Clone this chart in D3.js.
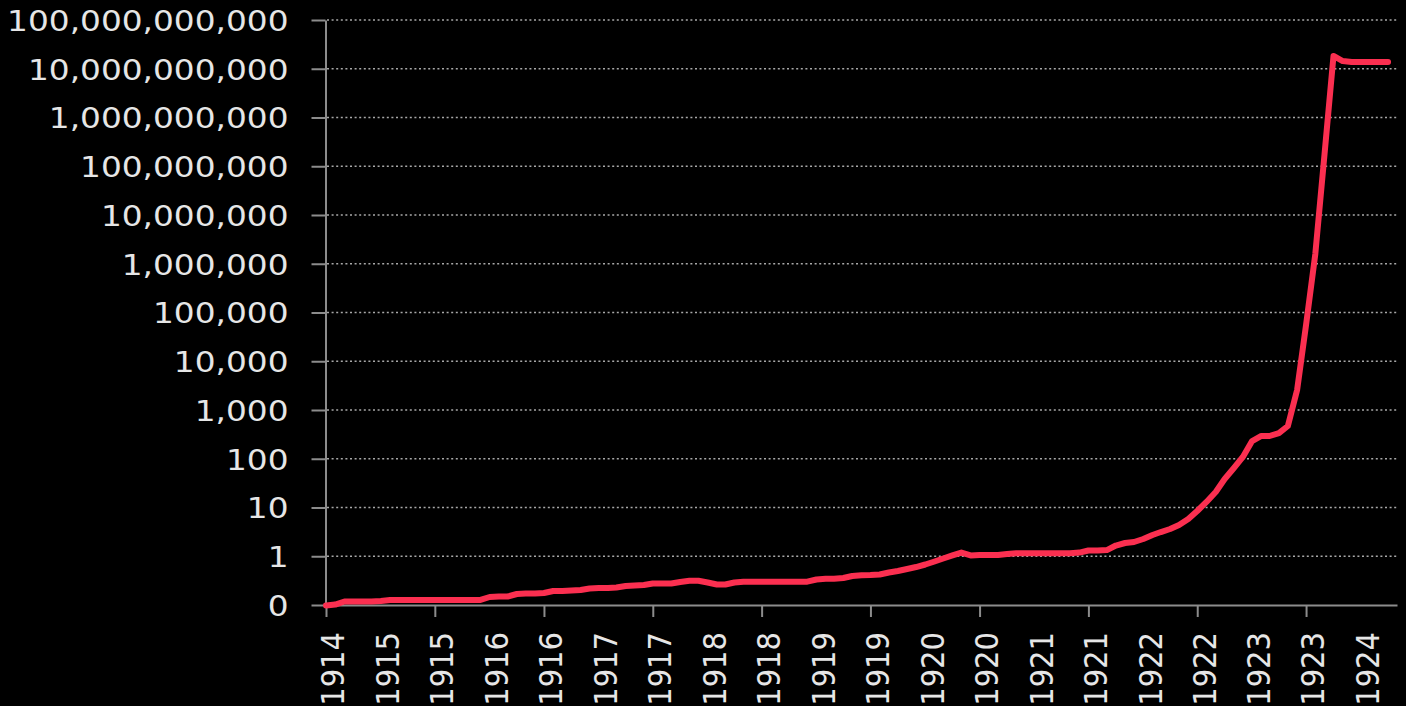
<!DOCTYPE html>
<html>
<head>
<meta charset="utf-8">
<script src="https://cdn.jsdelivr.net/npm/d3@7"></script>
<style>
  html, body { margin: 0; padding: 0; background: #000; }
  #wrapper { width: 1406px; height: 706px; }
</style>
</head>
<body>
<div id="wrapper"></div>
<script>
// Monthly series, first value is July 1914
const startMonth = new Date(1914, 6, 1);
const endMonth = new Date(1924, 4, 1);
const monthlyValues = [
  0.0977, 0.102, 0.118, 0.118, 0.118, 0.118, 0.121, 0.127, 0.127, 0.127, 0.127, 0.127,
  0.127, 0.127, 0.127, 0.127, 0.127, 0.127, 0.146, 0.149, 0.149, 0.168, 0.172, 0.172,
  0.176, 0.194, 0.194, 0.198, 0.203, 0.218, 0.223, 0.223, 0.229, 0.245, 0.251, 0.257,
  0.276, 0.276, 0.276, 0.297, 0.315, 0.315, 0.290, 0.263, 0.263, 0.290, 0.301, 0.301,
  0.301, 0.301, 0.301, 0.301, 0.301, 0.301, 0.333, 0.346, 0.346, 0.358, 0.394, 0.407,
  0.412, 0.423, 0.465, 0.498, 0.547, 0.601, 0.677, 0.780, 0.899, 1.04, 1.19, 1.04,
  1.06, 1.06, 1.06, 1.11, 1.15, 1.15, 1.15, 1.15, 1.15, 1.15, 1.15, 1.19,
  1.31, 1.31, 1.34, 1.66, 1.87, 1.96, 2.26, 2.73, 3.14, 3.62, 4.38, 5.81,
  8.47, 13.0, 20.8, 38.5, 64.6, 109, 231, 293, 293, 337, 470, 2570,
  55500, 1580000, 178000000, 18300000000, 14400000000, 13700000000,
  13700000000, 13700000000, 13700000000, 13700000000
];
const yTickValues = [0.1, 1, 10, 100, 1e3, 1e4, 1e5, 1e6, 1e7, 1e8, 1e9, 1e10, 1e11];
const xTickLabels = [
  "1914", "1915", "1915", "1916", "1916", "1917", "1917", "1918", "1918", "1919",
  "1919", "1920", "1920", "1921", "1921", "1922", "1922", "1923", "1923", "1924"
];

async function draw() {
  const dimensions = {
    width: 1406,
    height: 706,
    left: 326,
    right: 1397,
    top: 20,
    bottom: 605
  };
  const fontFamily = "'DejaVu Sans', Verdana, sans-serif";
  const textColor = "#e6e6e6";
  const axisColor = "#8c8c8c";
  const stretch = 1.13;   // the glyphs in the picture are a bit wider than tall

  const data = monthlyValues.map((v, i) => ({
    date: d3.timeMonth.offset(startMonth, i),
    value: v
  }));
  const dateAccessor = d => d.date;
  const valueAccessor = d => d.value;

  const svg = d3.select("#wrapper")
    .append("svg")
    .attr("width", dimensions.width)
    .attr("height", dimensions.height)
    .style("background", "#000");

  // Scales
  const xScale = d3.scaleTime()
    .domain([startMonth, endMonth])
    .range([dimensions.left, dimensions.right]);
  const yScale = d3.scaleLog()
    .domain([0.1, 1e11])
    .range([dimensions.bottom, dimensions.top]);

  // Dotted grid
  svg.append("g")
    .selectAll("line")
    .data(yTickValues.slice(1))
    .enter()
    .append("line")
    .attr("x1", dimensions.left + 1)
    .attr("x2", dimensions.right)
    .attr("y1", d => yScale(d))
    .attr("y2", d => yScale(d))
    .attr("stroke", "#a8a8a8")
    .attr("stroke-width", 1.5)
    .attr("stroke-dasharray", "2,2.6");

  // Y axis
  const yAxis = svg.append("g")
    .attr("transform", "translate(" + (dimensions.left - 0.5) + ",0)")
    .call(d3.axisLeft(yScale)
      .tickValues(yTickValues)
      .tickFormat(d3.format(",.0f"))
      .tickSizeInner(14)
      .tickSizeOuter(0));
  yAxis.attr("font-family", fontFamily).attr("font-size", 29);
  yAxis.select(".domain").attr("stroke", axisColor).attr("stroke-width", 2);
  yAxis.selectAll(".tick line").attr("stroke", axisColor).attr("stroke-width", 2);
  yAxis.selectAll(".tick text")
    .attr("x", null)
    .attr("dy", "0.36em")
    .attr("transform", "translate(-37,0) scale(" + stretch + ",1)")
    .attr("fill", textColor)
    .attr("text-anchor", "end");

  // X axis: a label every 6 months, a tick mark every 12
  const labelDates = d3.timeMonth.every(6).range(startMonth, endMonth);
  const xAxis = svg.append("g")
    .attr("transform", "translate(0," + dimensions.bottom + ")")
    .call(d3.axisBottom(xScale)
      .tickValues(labelDates)
      .tickFormat((d, i) => xTickLabels[i])
      .tickSizeInner(12)
      .tickSizeOuter(0));
  xAxis.attr("font-family", fontFamily).attr("font-size", 29);
  xAxis.select(".domain").attr("stroke", axisColor).attr("stroke-width", 2);
  xAxis.selectAll(".tick line")
    .attr("stroke", axisColor)
    .attr("stroke-width", 2)
    .attr("display", (d, i) => i % 2 === 0 ? null : "none");
  xAxis.selectAll(".tick text")
    .attr("y", null)
    .attr("x", null)
    .attr("dy", "0.36em")
    .attr("transform", "translate(6,27) scale(" + stretch + ",1) rotate(-90)")
    .attr("text-anchor", "end")
    .attr("fill", textColor);

  // Line
  const lineGenerator = d3.line()
    .x(d => xScale(dateAccessor(d)))
    .y(d => yScale(valueAccessor(d)));
  svg.append("path")
    .attr("d", lineGenerator(data))
    .attr("fill", "none")
    .attr("stroke", "#fb2f50")
    .attr("stroke-width", 6)
    .attr("stroke-linejoin", "round")
    .attr("stroke-linecap", "round");
}
draw();
</script>
</body>
</html>
